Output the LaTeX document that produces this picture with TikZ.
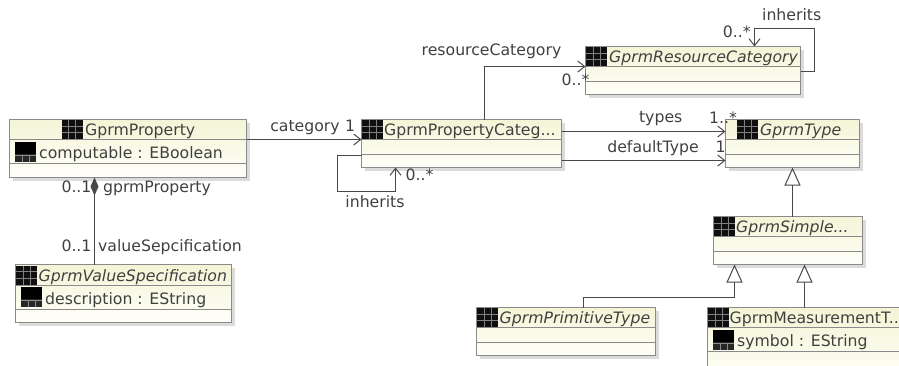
\documentclass[tikz,border=0pt]{standalone}
\usepackage{fontspec}
\setmainfont{DejaVu Sans}
\usetikzlibrary{arrows.meta,calc}
\definecolor{txt}{HTML}{404040}
\definecolor{edge}{HTML}{484848}
\definecolor{bord}{HTML}{8A8A8A}
\definecolor{ctop}{HTML}{F4F4D6}
\definecolor{cbot}{HTML}{FFFFFA}
\newcommand{\lblfont}{\fontsize{15.7}{18}\selectfont}
\tikzset{
  x=1pt,y=-1pt,
  umlbox/.style={draw=bord,line width=1.2pt,top color=ctop,bottom color=cbot,inner sep=0pt,outer sep=0pt,anchor=north west},
  lbl/.style={font=\lblfont,text=txt,inner sep=0pt,anchor=base},
  ttl/.style={lbl,anchor=base west},
  ittl/.style={ttl,font=\lblfont\itshape},
  conn/.style={draw=edge,line width=1pt},
  assoc/.style={conn,-{Straight Barb[length=7pt,width=11pt,line width=1pt]}},
  gen/.style={conn,-{Triangle[open,length=18pt,width=16pt,fill=white,line width=1pt]}},
  comp/.style={conn,{Diamond[length=18pt,width=8pt,color=edge]}-},
}
% name x0 y0 x1 y1 div1 div2
\newcommand{\umlclass}[7]{%
  \fill[black!14] (#2+3,#3+3) rectangle (#4+3,#5+3);
  \pgfmathsetmacro{\boxw}{#4-#2}\pgfmathsetmacro{\boxh}{#5-#3}
  \node[umlbox,minimum width=\boxw pt,minimum height=\boxh pt] (#1) at (#2,#3) {};
  \draw[bord,line width=1pt] (#2,#6) -- (#4,#6) (#2,#7) -- (#4,#7);
}
\newcommand{\classicon}[2]{%
  \fill[black!94] (#1,#2) rectangle (#1+21,#2+19);
  \draw[black!50,line width=.5pt] (#1+7,#2) -- (#1+7,#2+19) (#1+14,#2) -- (#1+14,#2+19)
    (#1,#2+6) -- (#1+21,#2+6) (#1,#2+12.5) -- (#1+21,#2+12.5);
}
\newcommand{\attricon}[2]{%
  \fill[black] (#1,#2) rectangle (#1+21,#2+20);
  \fill[black!85] (#1,#2+12) rectangle (#1+21,#2+20);
  \draw[black!45,line width=.5pt] (#1,#2+13) -- (#1+21,#2+13) (#1+7,#2+13) -- (#1+7,#2+20) (#1+14,#2+13) -- (#1+14,#2+20);
}
\begin{document}
\begin{tikzpicture}
\useasboundingbox (0,0) rectangle (899,365);
\clip (0,0) rectangle (899,365);

% classes
\umlclass{prop}{9.5}{119.5}{246.5}{177.5}{139.5}{163.5}
\umlclass{cat}{361.5}{119.5}{561.5}{167.5}{139.5}{154.5}
\umlclass{res}{585.5}{46.5}{800.5}{94.5}{66.5}{81.5}
\umlclass{type}{725.5}{119.5}{859.5}{167.5}{139.5}{154.5}
\umlclass{simple}{713.5}{216.5}{862.5}{264.5}{236.5}{251.5}
\umlclass{prim}{476.5}{307.5}{655.5}{355.5}{327.5}{342.5}
\umlclass{meas}{707.5}{307.5}{915}{385}{327.5}{351.5}
\umlclass{val}{15.5}{264.5}{231.5}{322.5}{285.5}{309.5}

% icons
\classicon{61.5}{120}
\classicon{362}{120}
\classicon{586}{47}
\classicon{737}{120}
\classicon{714}{217}
\classicon{477}{308}
\classicon{708}{308}
\classicon{16}{265.5}
\attricon{15}{142}
\attricon{713}{330}
\attricon{21}{287}

% titles
\node[ttl] (tprop) at (85,135) {GprmProperty};
\node[ttl] (tcat) at (384,135) {GprmPropertyCateg...};
\node[ittl] (tres) at (609,62) {GprmResourceCategory};
\node[ittl] (ttype) at (760,135) {GprmType};
\node[ittl] (tsimple) at (736,232) {GprmSimple...};
\node[ittl] (tprim) at (499.5,323) {GprmPrimitiveType};
\node[ttl] (tmeas) at (729.5,323) {GprmMeasurementT..};
\node[ittl] (tval) at (38.5,281) {GprmValueSpecification};
\node[ttl] (aprop) at (39,158) {computable : EBoolean};
\node[ttl] (ameas) at (737,346) {symbol : EString};
\node[ttl] (aval) at (45,304) {description : EString};

% connectors
\draw[assoc] (prop.east |- 0,139.5) -- (cat.west |- 0,139.5);
\draw[assoc] (cat.north -| 484.5,0) |- (res.west |- 0,66.5);
\draw[assoc] (cat.west |- 0,155.5) -- (337.5,155.5) -- (337.5,191.5) -- (395.5,191.5) -- (cat.south -| 395.5,0);
\draw[assoc] (cat.east |- 0,131.5) -- (type.west |- 0,131.5);
\draw[assoc] (cat.east |- 0,160.5) -- (type.west |- 0,160.5);
\draw[assoc] (res.east |- 0,71.5) -- (814.5,71.5) -- (814.5,28.5) -- (754.5,28.5) -- (res.north -| 754.5,0);
\draw[gen] (simple.north -| 792.5,0) -- (type.south -| 792.5,0);
\draw[gen] (prim.north -| 583.5,0) -- (583.5,297.5) -- (734.5,297.5) -- (simple.south -| 734.5,0);
\draw[gen] (meas.north -| 804.5,0) -- (simple.south -| 804.5,0);
\draw[comp] (prop.south -| 94.5,0) -- (val.north -| 94.5,0);

% labels
\node[lbl] (l1) at (305,131) {category};
\node[lbl] (l2) at (350,131) {1};
\node[lbl] (l3) at (491.5,55) {resourceCategory};
\node[lbl] (l4) at (575.5,85) {0..*};
\node[lbl] (l5) at (375,207) {inherits};
\node[lbl] (l6) at (419.5,180) {0..*};
\node[lbl] (l7) at (660.7,122) {types};
\node[lbl] (l8) at (653,152) {defaultType};
\node[lbl] (l9) at (723,123) {1..*};
\node[lbl] (l10) at (720.5,152) {1};
\node[lbl] (l11) at (791.7,20) {inherits};
\node[lbl] (l12) at (736.7,37) {0..*};
\node[lbl] (l13) at (76.5,192) {0..1};
\node[lbl] (l14) at (157,192) {gprmProperty};
\node[lbl] (l15) at (76.5,251) {0..1};
\node[lbl] (l16) at (170,251) {valueSepcification};
\end{tikzpicture}
\end{document}
